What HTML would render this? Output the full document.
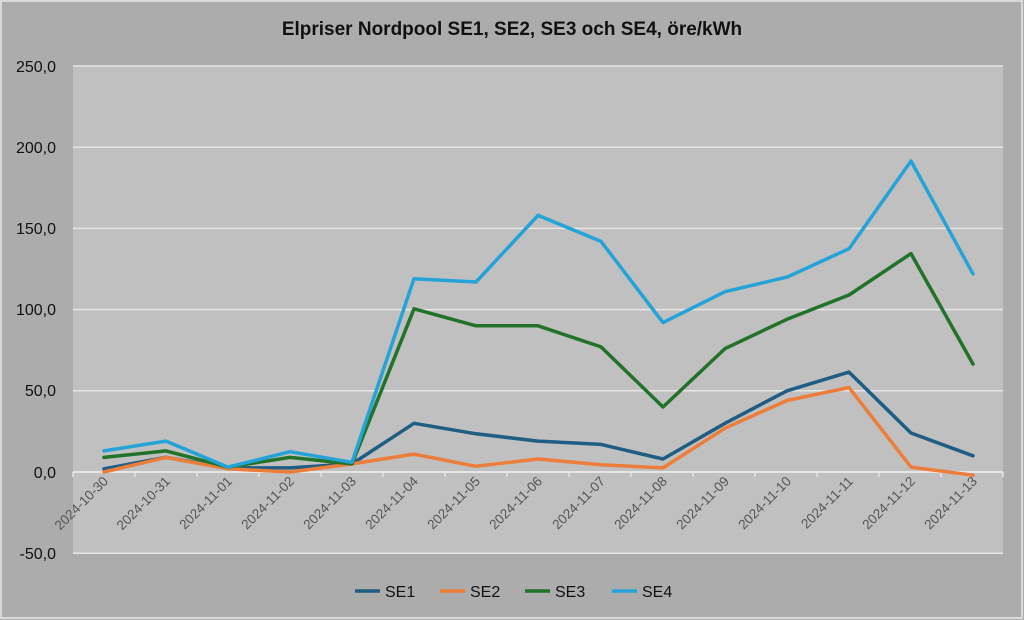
<!DOCTYPE html>
<html><head><meta charset="utf-8"><style>
html,body{margin:0;padding:0;background:#aaaaaa;}
svg{display:block;font-family:"Liberation Sans",sans-serif;}
</style></head><body>
<svg width="1024" height="620" viewBox="0 0 1024 620" xmlns="http://www.w3.org/2000/svg">
<rect x="0" y="0" width="1024" height="620" fill="#acacac"/>
<rect x="1" y="1" width="1021" height="617" fill="none" stroke="#d9d9d9" stroke-width="2"/>
<text x="512" y="35" text-anchor="middle" font-size="19" font-weight="bold" fill="#111">Elpriser Nordpool SE1, SE2, SE3 och SE4, öre/kWh</text>
<rect x="73" y="66" width="930" height="487" fill="#c0c0c0"/>
<g stroke="#e6e6e6" stroke-width="1.5">
<line x1="73" y1="66" x2="1003" y2="66"/>
<line x1="73" y1="147.2" x2="1003" y2="147.2"/>
<line x1="73" y1="228.4" x2="1003" y2="228.4"/>
<line x1="73" y1="309.6" x2="1003" y2="309.6"/>
<line x1="73" y1="390.8" x2="1003" y2="390.8"/>
<line x1="73" y1="553.2" x2="1003" y2="553.2"/>
<line x1="73" y1="472" x2="1003" y2="472" stroke-width="2"/>
</g>
<g stroke="#e6e6e6" stroke-width="1.5">
<line x1="73" y1="472" x2="73" y2="477"/><line x1="135" y1="472" x2="135" y2="477"/><line x1="197" y1="472" x2="197" y2="477"/><line x1="259" y1="472" x2="259" y2="477"/><line x1="321" y1="472" x2="321" y2="477"/><line x1="383" y1="472" x2="383" y2="477"/><line x1="445" y1="472" x2="445" y2="477"/><line x1="507" y1="472" x2="507" y2="477"/><line x1="569" y1="472" x2="569" y2="477"/><line x1="631" y1="472" x2="631" y2="477"/><line x1="693" y1="472" x2="693" y2="477"/><line x1="755" y1="472" x2="755" y2="477"/><line x1="817" y1="472" x2="817" y2="477"/><line x1="879" y1="472" x2="879" y2="477"/><line x1="941" y1="472" x2="941" y2="477"/><line x1="1003" y1="472" x2="1003" y2="477"/>
</g>
<g font-size="16" fill="#111" text-anchor="end">
<text x="56" y="72">250,0</text><text x="56" y="153">200,0</text><text x="56" y="234">150,0</text><text x="56" y="315">100,0</text><text x="56" y="396">50,0</text><text x="56" y="478">0,0</text><text x="56" y="559">-50,0</text>
</g>
<g font-size="13.5" fill="#555" text-anchor="end">
<text transform="translate(109,482) rotate(-45)">2024-10-30</text>
<text transform="translate(171,482) rotate(-45)">2024-10-31</text>
<text transform="translate(233,482) rotate(-45)">2024-11-01</text>
<text transform="translate(295,482) rotate(-45)">2024-11-02</text>
<text transform="translate(357,482) rotate(-45)">2024-11-03</text>
<text transform="translate(419,482) rotate(-45)">2024-11-04</text>
<text transform="translate(481,482) rotate(-45)">2024-11-05</text>
<text transform="translate(543,482) rotate(-45)">2024-11-06</text>
<text transform="translate(606,482) rotate(-45)">2024-11-07</text>
<text transform="translate(668,482) rotate(-45)">2024-11-08</text>
<text transform="translate(730,482) rotate(-45)">2024-11-09</text>
<text transform="translate(792,482) rotate(-45)">2024-11-10</text>
<text transform="translate(854,482) rotate(-45)">2024-11-11</text>
<text transform="translate(916,482) rotate(-45)">2024-11-12</text>
<text transform="translate(978,482) rotate(-45)">2024-11-13</text>
</g>
<g fill="none" stroke-width="3.5" stroke-linejoin="round" stroke-linecap="round">
<polyline stroke="#1f5d82" points="104,468.8 166,457.4 228,467.9 290,467.9 352,463.9 414,423.3 476,433.8 538,441.1 601,444.4 663,459 725,423.3 787,390.8 849,372.1 911,433 973,455.8"/>
<polyline stroke="#ec7d3a" points="104,472 166,457.4 228,468.8 290,472 352,463.9 414,454.1 476,466.3 538,459 601,464.7 663,467.9 725,428.2 787,400.5 849,387.5 911,467.1 973,475.2"/>
<polyline stroke="#22722a" points="104,457.4 166,450.9 228,467.1 290,457.4 352,463.9 414,308.8 476,325.8 538,325.8 601,346.9 663,407 725,348.6 787,319.3 849,295 911,253.6 973,364"/>
<polyline stroke="#24a3d8" points="104,450.9 166,441.1 228,467.1 290,451.7 352,462.3 414,278.7 476,282 538,215.4 601,241.4 663,322.6 725,291.7 787,277.1 849,248.7 911,161 973,273.9"/>
</g>
<g stroke-width="3.5">
<line x1="355" y1="591" x2="380" y2="591" stroke="#1f5d82"/>
<line x1="440" y1="591" x2="465" y2="591" stroke="#ec7d3a"/>
<line x1="525" y1="591" x2="550" y2="591" stroke="#22722a"/>
<line x1="612" y1="591" x2="637" y2="591" stroke="#24a3d8"/>
</g>
<g font-size="16" fill="#111">
<text x="385" y="597">SE1</text><text x="470" y="597">SE2</text><text x="555" y="597">SE3</text><text x="642" y="597">SE4</text>
</g>
</svg>
</body></html>
